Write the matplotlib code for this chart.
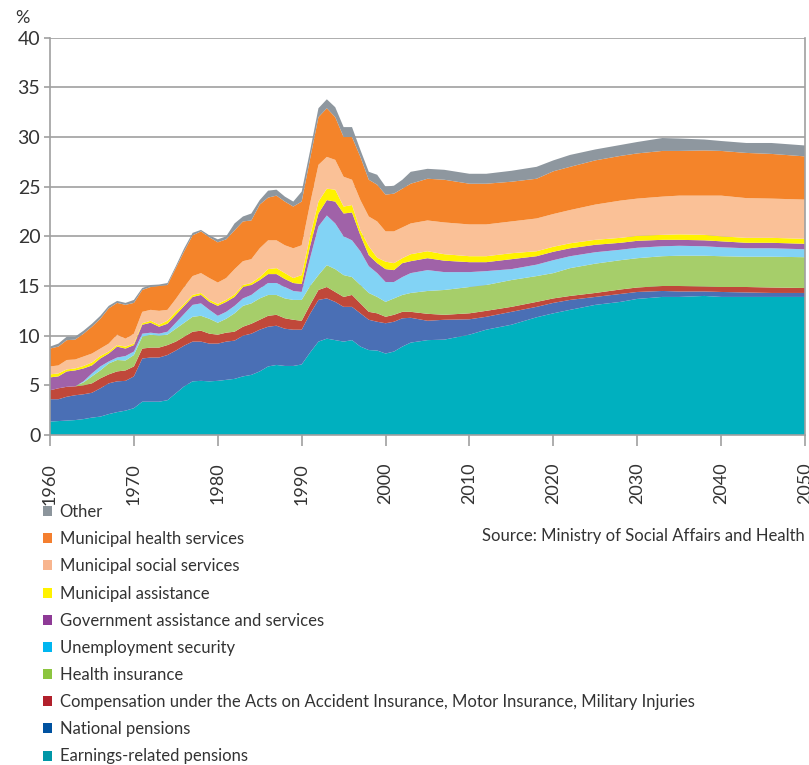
import matplotlib
matplotlib.use("Agg")
import matplotlib.pyplot as plt
from matplotlib.patches import Patch
import numpy as np

plt.rcParams['font.family'] = ['Lato', 'DejaVu Sans']

years = [1960, 1961, 1962, 1963, 1964, 1965, 1966, 1967, 1968, 1969,
         1970, 1971, 1972, 1973, 1974, 1975, 1976, 1977, 1978, 1979,
         1980, 1981, 1982, 1983, 1984, 1985, 1986, 1987, 1988, 1989,
         1990, 1991, 1992, 1993, 1994, 1995, 1996, 1997, 1998, 1999,
         2000, 2001, 2002, 2003, 2005, 2007, 2010, 2012, 2015, 2018,
         2020, 2022, 2025, 2028, 2030, 2033, 2035, 2038, 2040, 2043,
         2046, 2050]

earnings = [1.35, 1.4, 1.45, 1.5, 1.6, 1.75, 1.85, 2.1, 2.3, 2.45,
            2.7, 3.35, 3.35, 3.35, 3.5, 4.2, 4.9, 5.4, 5.45, 5.4,
            5.45, 5.55, 5.65, 5.9, 6.05, 6.4, 6.9, 7.05, 6.95, 6.95,
            7.1, 8.3, 9.4, 9.7, 9.55, 9.4, 9.55, 8.9, 8.55, 8.5,
            8.2, 8.4, 8.9, 9.3, 9.55, 9.6, 10.1, 10.6, 11.1, 11.85,
            12.25, 12.6, 13.1, 13.4, 13.7, 13.9, 13.9, 14.0, 13.9, 13.9,
            13.9, 13.9]
national = [2.25, 2.2, 2.4, 2.5, 2.5, 2.5, 2.85, 3.1, 3.1, 3.0,
            3.2, 4.35, 4.45, 4.45, 4.55, 4.3, 4.1, 4.0, 3.95, 3.8,
            3.75, 3.85, 3.85, 4.1, 4.15, 4.2, 4.0, 3.95, 3.75, 3.65,
            3.5, 3.9, 4.2, 4.05, 3.85, 3.5, 3.35, 3.35, 3.05, 2.9,
            3.05, 3.0, 2.85, 2.5, 1.95, 2.0, 1.55, 1.3, 1.3, 1.05,
            1.05, 1.0, 0.8, 0.8, 0.7, 0.6, 0.55, 0.45, 0.5, 0.45,
            0.4, 0.4]
compensation = [0.9, 1.1, 1.0, 0.9, 0.9, 0.95, 1.0, 0.9, 1.0, 1.05,
                1.0, 1.0, 1.0, 1.0, 1.0, 0.9, 0.9, 1.0, 1.1, 1.0,
                0.9, 0.9, 0.9, 0.9, 1.0, 1.0, 1.1, 1.1, 1.05, 1.0,
                0.9, 0.9, 1.0, 1.15, 1.0, 1.0, 1.2, 1.0, 0.8, 0.85,
                0.65, 0.7, 0.65, 0.6, 0.7, 0.5, 0.6, 0.6, 0.5, 0.5,
                0.45, 0.4, 0.4, 0.45, 0.45, 0.5, 0.55, 0.5, 0.5, 0.55,
                0.55, 0.5]
health_ins = [0, 0, 0, 0, 0.3, 0.7, 0.8, 1.1, 1.15, 1.0,
              1.15, 1.2, 1.3, 1.2, 1.05, 1.3, 1.4, 1.5, 1.5, 1.5,
              1.2, 1.4, 1.85, 2.1, 2.05, 2.15, 2.1, 2.0, 2.0, 2.0,
              2.1, 1.9, 1.5, 2.2, 2.3, 2.2, 1.8, 1.85, 1.9, 1.65,
              1.5, 1.65, 1.7, 1.9, 2.3, 2.5, 2.65, 2.6, 2.7, 2.6,
              2.55, 2.8, 2.95, 2.95, 2.95, 3.0, 3.05, 3.1, 3.1, 3.05,
              3.1, 3.1]
unemployment = [0, 0, 0, 0, 0.1, 0.3, 0.4, 0.2, 0.25, 0.45,
                0.35, 0.3, 0.2, 0.2, 0.3, 0.6, 0.9, 1.2, 1.25, 0.9,
                0.7, 0.7, 0.75, 0.75, 0.85, 1.0, 1.2, 1.2, 1.15, 0.9,
                0.8, 2.8, 4.9, 5.0, 4.6, 3.9, 3.7, 3.4, 2.7, 2.4,
                2.0, 1.65, 1.8, 2.0, 2.1, 1.8, 1.5, 1.4, 1.1, 1.15,
                1.3, 1.2, 1.15, 1.05, 1.05, 1.0, 1.0, 0.95, 0.9, 0.85,
                0.85, 0.8]
gov_assist = [1.3, 1.2, 1.55, 1.6, 1.3, 0.8, 0.8, 0.8, 1.1, 0.75,
              0.65, 0.9, 1.0, 0.7, 0.8, 0.8, 0.8, 0.8, 0.85, 0.8,
              1.0, 1.0, 0.9, 1.15, 1.0, 0.85, 0.9, 0.9, 0.8, 0.8,
              0.8, 1.2, 1.3, 1.55, 2.2, 2.3, 2.8, 1.6, 1.1, 1.0,
              1.3, 1.2, 1.4, 1.2, 1.2, 1.15, 1.0, 0.9, 1.0, 0.85,
              0.85, 0.8, 0.75, 0.7, 0.7, 0.65, 0.6, 0.6, 0.6, 0.55,
              0.55, 0.55]
muni_assist = [0.3, 0.3, 0.2, 0.2, 0.25, 0.3, 0.25, 0.2, 0.15, 0.2,
               0.15, 0.15, 0.2, 0.2, 0.3, 0.3, 0.2, 0.2, 0.2, 0.2,
               0.2, 0.2, 0.25, 0.2, 0.2, 0.3, 0.5, 0.6, 0.6, 0.5,
               0.9, 1.0, 1.2, 1.15, 1.2, 0.7, 0.75, 0.5, 0.9, 0.55,
               0.75, 0.7, 0.5, 0.7, 0.7, 0.65, 0.6, 0.6, 0.6, 0.5,
               0.5, 0.5, 0.5, 0.5, 0.5, 0.5, 0.55, 0.55, 0.5, 0.5,
               0.5, 0.5]
muni_social = [0.8, 0.8, 0.95, 0.9, 0.95, 0.9, 0.75, 0.8, 1.05, 0.8,
               1.0, 1.15, 1.1, 1.4, 1.1, 1.3, 1.7, 1.9, 2.0, 2.2,
               2.15, 2.2, 2.55, 2.4, 2.4, 2.9, 2.9, 2.8, 2.8, 3.0,
               3.0, 3.3, 3.7, 3.2, 3.0, 3.0, 2.55, 3.05, 3.0, 3.65,
               3.05, 3.2, 3.1, 3.1, 3.1, 3.2, 3.2, 3.2, 3.2, 3.3,
               3.3, 3.35, 3.55, 3.75, 3.75, 3.85, 3.9, 3.95, 4.1, 4.0,
               3.95, 3.95]
muni_health = [1.8, 1.9, 2.0, 2.0, 2.3, 2.7, 3.0, 3.55, 3.2, 3.4,
               3.1, 2.2, 2.3, 2.5, 2.5, 3.1, 3.6, 4.1, 4.2, 4.1,
               4.05, 3.9, 3.9, 4.0, 3.9, 4.4, 4.3, 4.5, 4.4, 4.2,
               4.4, 4.5, 4.8, 4.9, 4.3, 4.0, 4.3, 4.35, 3.7, 3.7,
               3.7, 3.8, 3.9, 4.0, 4.2, 4.3, 4.1, 4.1, 4.0, 4.0,
               4.3, 4.35, 4.45, 4.5, 4.55, 4.6, 4.5, 4.55, 4.5, 4.55,
               4.5, 4.35]
other = [0.2, 0.3, 0.35, 0.3, 0.3, 0.3, 0.3, 0.25, 0.2, 0.2,
         0.3, 0.2, 0.2, 0.15, 0.2, 0.2, 0.3, 0.25, 0.15, 0.2,
         0.3, 0.3, 0.7, 0.5, 0.7, 0.45, 0.7, 0.6, 0.5, 0.5,
         1.0, 0.8, 0.9, 0.9, 1.0, 1.0, 1.0, 0.7, 0.8, 1.0,
         0.8, 0.8, 0.9, 1.2, 1.0, 1.0, 1.0, 1.0, 1.1, 1.2,
         1.1, 1.2, 1.1, 1.1, 1.15, 1.3, 1.25, 1.1, 1.0, 1.0,
         1.1, 1.1]

labels = ["Earnings-related pensions", "National pensions",
          "Compensation under the Acts on Accident Insurance, Motor Insurance, Military Injuries",
          "Health insurance", "Unemployment security",
          "Government assistance and services", "Municipal assistance",
          "Municipal social services", "Municipal health services", "Other"]
area_colors = ["#00b0bf", "#4a6fb5", "#c0483a", "#a6ce6a", "#82d3f5",
               "#a062a8", "#fff200", "#fac197", "#f4842a", "#8e979f"]
legend_colors = ["#0097a7", "#0052a0", "#b1202b", "#8cc53f", "#00b6f0",
                 "#8e3a96", "#fff200", "#f8b58e", "#f47f2f", "#8c959c"]

series = [earnings, national, compensation, health_ins, unemployment,
          gov_assist, muni_assist, muni_social, muni_health, other]

grid_col = "#a0a0a0"
text_col = "#333333"

fig = plt.figure(figsize=(8.09, 7.65), dpi=100)
ax = fig.add_axes([0.0618, 0.4314, 0.9333, 0.5193])

ax.stackplot(years, *series, colors=area_colors, linewidth=0, zorder=2)

ax.set_xlim(1960, 2050)
ax.set_ylim(0, 40)
ax.set_yticks(np.arange(0, 41, 5))
ax.set_xticks(np.arange(1960, 2051, 10))
ax.yaxis.grid(True, color=grid_col, linewidth=1.2, zorder=1)
ax.set_axisbelow(True)
for s in ["left", "right", "bottom"]:
    ax.spines[s].set_color(grid_col)
    ax.spines[s].set_linewidth(1.2)
ax.spines["top"].set_visible(False)

ax.tick_params(axis="x", direction="out", length=8, width=1.2, color=grid_col,
               labelsize=13, labelcolor=text_col, labelrotation=90, pad=12)
ax.tick_params(axis="y", direction="out", length=4, width=1.2, color=grid_col,
               labelsize=14, labelcolor=text_col, pad=3)

fig.text(22 / 809, 1 - 18 / 765, "%", fontsize=13, color=text_col,
         ha="center", va="center")

handles = [Patch(facecolor=c, edgecolor="none") for c in legend_colors]
fig.legend(handles[::-1], labels[::-1], loc="upper left",
           bbox_to_anchor=(43 / 809, 1 - 504 / 765), frameon=False,
           handlelength=0.55, handleheight=0.55,
           handletextpad=0.45, labelspacing=0.67, labelcolor=text_col,
           borderaxespad=0, borderpad=0,
           prop={"size": 12})

fig.text(805 / 809, 1 - 536 / 765, "Source: Ministry of Social Affairs and Health",
         fontsize=12, color=text_col, ha="right", va="center")

fig.savefig("out.png", dpi=100)
